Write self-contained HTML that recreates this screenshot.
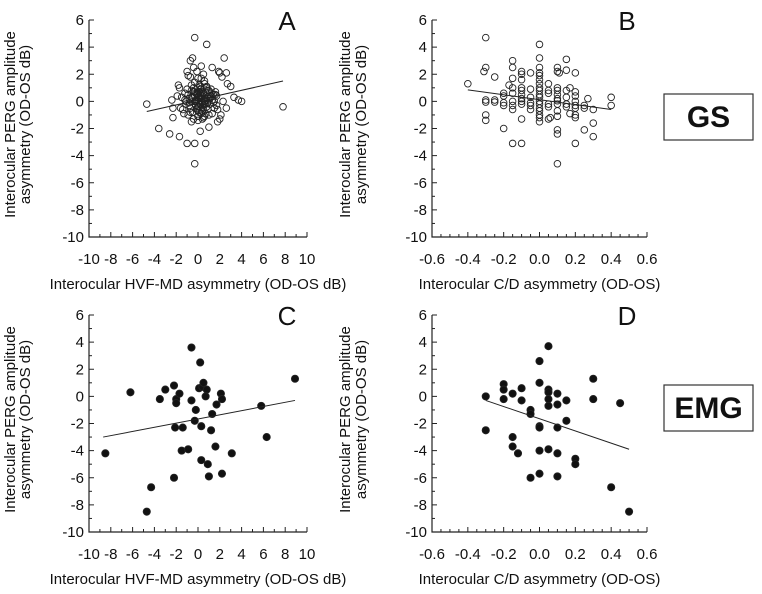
<!DOCTYPE html>
<html><head><meta charset="utf-8"><style>
html,body{margin:0;padding:0;background:#fff;}
svg{display:block;font-family:"Liberation Sans",Arial,sans-serif;}
</style></head><body>
<svg id="fig" width="762" height="594" viewBox="0 0 762 594" xmlns="http://www.w3.org/2000/svg"></svg>
<script>
// Panel A (GS, HVF-MD vs PERG) open circles
const aX=[-4.7,-3.6,-2.6,-2.4,-2.3,-2.3,-1.7,-1.8,-1.7,-1.0,-1.0,-0.7,-0.5,-0.3,-0.3,-0.3,0.7,0.8,0.2,1.0,2.4,2.6,1.9,2.0,1.3,0.3,-0.4,-0.1,3.0,2.7,2.6,3.3,3.7,4.0,7.8,2.0,1.8,2.2,
-1.5,-1.4,-1.2,-1.1,-1.0,-0.9,-0.8,-0.7,-0.6,-0.5,-0.4,-0.3,-0.2,-0.1,0.0,0.1,0.2,0.3,0.4,0.5,0.6,0.7,0.8,0.9,1.0,1.1,1.2,1.3,1.4,1.5,1.6,1.7,
-1.3,-0.9,-0.6,-0.3,0.0,0.2,0.4,0.6,0.9,1.2,1.5,-0.8,-0.4,0.1,0.5,0.9,1.3,-1.1,-0.5,0.0,0.3,0.7,1.1,-0.2,0.2,0.6,-0.6,0.0,0.4,0.8,1.6,-1.6,-0.7,0.3,1.0,-0.1,0.1,0.5,-0.3,0.0,0.2,1.8,2.1,-0.9,0.6,1.2,
-0.2,0.0,0.2,0.4,0.1,-0.1,0.3,0.5,-0.3,0.0,0.2,0.4,0.6,-0.5,-0.2,0.1,0.3,0.7,0.9,-0.7,-0.4,0.0,0.2,0.5,1.1,-1.2,-0.8,1.4,1.7,-1.9,2.3,-0.1,0.3,0.6,0.8,-0.6,1.0,0.0,0.4,-0.2];
const aY=[-0.2,-2.0,-2.4,0.1,-0.5,-1.2,-2.6,1.2,1.0,-3.1,2.2,3.0,3.2,4.7,-3.1,-4.6,-3.1,4.2,-2.2,-1.9,3.2,2.1,2.2,2.1,2.5,2.6,2.5,2.2,1.1,1.3,-0.5,0.3,0.1,0.0,-0.4,-1.3,-1.5,1.8,
0.3,-0.6,0.6,-0.2,0.9,-1.0,0.2,-0.5,0.8,0.0,-1.3,1.4,-0.3,0.5,1.0,-0.8,0.3,1.7,-0.4,0.6,-1.1,0.2,1.1,-0.6,0.4,-0.2,0.9,-0.9,0.5,0.0,0.7,-0.3,
-0.9,0.5,-1.5,0.4,-0.4,0.9,0.0,1.3,-0.1,0.6,-0.5,-0.3,1.0,0.2,-0.6,0.8,0.1,0.0,-0.8,1.7,0.7,-0.9,0.3,0.0,-0.2,1.5,0.3,0.6,-1.3,1.0,0.5,-0.5,1.8,0.4,-1.0,0.1,-0.4,2.0,0.7,-1.1,0.6,-0.6,-1.0,1.9,-0.2,0.4,
0.1,0.3,0.5,-0.1,0.7,-0.5,0.2,-0.3,0.0,-0.7,-0.2,0.4,0.0,0.3,0.6,1.2,-0.9,-0.2,0.3,-0.8,0.7,-1.1,1.1,-1.2,0.2,0.1,-0.1,-0.1,0.4,0.4,0.0,-0.6,0.9,0.2,-0.4,1.2,0.8,-1.4,-0.7,0.0];
const aLineX=[-4.7,7.8], aLineY=[-0.75,1.5];
// Panel B (GS, C/D vs PERG)
const bX=[-0.4,-0.3,-0.3,-0.31,-0.3,-0.3,-0.3,-0.3,-0.25,-0.25,-0.25,-0.2,-0.2,-0.2,-0.2,-0.2,-0.17,
-0.15,-0.15,-0.15,-0.15,-0.15,-0.15,-0.15,-0.15,-0.15,
-0.1,-0.1,-0.1,-0.1,-0.1,-0.1,-0.1,-0.1,-0.1,-0.1,-0.1,
-0.05,-0.05,-0.05,-0.05,-0.05,-0.05,
0,0,0,0,0,0,0,0,0,0,0,0,0,0,0,0,0,0,
0.05,0.05,0.05,0.05,0.05,0.06,0.05,
0.1,0.1,0.11,0.1,0.1,0.1,0.1,0.1,0.1,0.1,0.1,0.1,0.1,0.1,
0.15,0.15,0.15,0.15,0.15,0.15,0.17,0.17,
0.2,0.2,0.2,0.2,0.2,0.2,0.2,0.2,0.2,0.25,0.25,0.27,0.25,0.3,0.3,0.3,0.4,0.4];
const bY=[1.3,4.7,2.5,2.2,0.1,-0.05,-1.0,-1.4,1.8,0.1,-0.05,0.6,0.4,-0.1,-0.3,-2.0,1.2,
3.0,2.5,1.7,1.0,0.6,0.0,-0.3,-0.6,-3.1,
2.2,2.0,1.6,1.0,0.8,0.5,0.2,0.0,-0.2,-1.3,-3.1,
2.1,0.9,0.3,-0.1,-0.3,-0.6,
4.2,3.2,2.5,2.1,1.9,1.6,1.3,1.0,0.8,0.5,0.3,0.0,-0.2,-0.5,-0.7,-1.0,-1.2,-1.5,
1.3,0.8,0.6,-0.2,-0.4,-1.2,-1.3,
2.5,2.2,2.1,1.0,0.8,0.5,0.2,0.05,-0.2,-0.7,-1.1,-2.1,-2.4,-4.6,
3.1,2.3,0.8,0.3,-0.2,-0.4,-0.9,1.0,
2.1,0.7,0.4,0.0,-0.3,-0.5,-1.0,-1.2,-3.1,-0.3,-0.5,0.2,-2.1,-0.6,-1.6,-2.6,0.3,-0.3];
const bLineX=[-0.4,0.4], bLineY=[0.85,-0.6];
// Panel C (EMG, HVF-MD vs PERG)
const cX=[-8.5,-6.2,-4.7,-4.3,-3.5,-3.0,-2.2,-2.0,-2.0,-2.1,-2.2,-1.7,-1.4,-1.5,-0.9,-0.6,-0.6,-0.2,-0.3,0.1,0.2,0.4,0.5,0.3,0.3,0.8,0.7,0.9,1.0,1.3,1.2,1.6,1.7,2.1,2.2,2.2,3.1,5.8,6.3,8.9];
const cY=[-4.2,0.3,-8.5,-6.7,-0.2,0.5,0.8,-0.2,-0.5,-2.3,-6.0,0.2,-2.3,-4.0,-3.9,3.6,-0.3,-1.0,-1.8,0.6,2.5,0.7,1.0,-2.2,-4.7,0.5,0.0,-5.0,-5.9,-1.3,-2.5,-3.7,-0.6,0.2,-0.2,-5.7,-4.2,-0.7,-3.0,1.3];
const cLineX=[-8.7,8.9], cLineY=[-3.0,-0.3];
// Panel D (EMG, C/D vs PERG)
const dX=[-0.3,-0.3,-0.2,-0.2,-0.2,-0.15,-0.15,-0.15,-0.12,-0.1,-0.1,-0.05,-0.05,-0.05,0,0,0,0,0,0,0.05,0.05,0.05,0.05,0.05,0.05,0.1,0.1,0.1,0.1,0.1,0.15,0.15,0.2,0.2,0.3,0.3,0.4,0.45,0.5];
const dY=[0.0,-2.5,0.9,0.5,-0.2,0.2,-3.0,-3.7,-4.2,0.6,-0.3,-1.0,-1.3,-6.0,2.6,1.0,-2.2,-2.3,-4.0,-5.7,3.7,0.5,0.3,-0.2,-0.7,-3.9,0.2,-0.6,-2.3,-4.2,-5.9,-0.3,-1.8,-4.6,-5.0,1.3,-0.2,-6.7,-0.5,-8.5];
const dLineX=[-0.3,0.5], dLineY=[-0.3,-3.9];
const yTicks=[6,4,2,0,-2,-4,-6,-8,-10];
const xTicksMD=[-10,-8,-6,-4,-2,0,2,4,6,8,10];
const xTicksCD=[-0.6,-0.4,-0.2,0.0,0.2,0.4,0.6];
const xTickLabelsCD=["-0.6","-0.4","-0.2","0.0","0.2","0.4","0.6"];

const NS="http://www.w3.org/2000/svg";
const svg=document.getElementById('fig');
function mk(tag,attrs,parent,text){const e=document.createElementNS(NS,tag);for(const k in attrs)e.setAttribute(k,attrs[k]);if(text!==undefined)e.textContent=text;parent.appendChild(e);return e;}

function panel(id,x0,x1,y0,y1,xmin,xmax,xTicks,xLabels,xMinorStep,xs,ys,lx,ly,filled,letter,xTitle,titleX1,titleX2){
  const g=mk('g',{},svg);
  
  
  const sx=v=>x0+(v-xmin)/(xmax-xmin)*(x1-x0);
  const sy=v=>y1-(v+10)/16*(y1-y0);
  const ax=mk('path',{d:`M${x0} ${y0}V${y1}H${x1}`,stroke:'#222',fill:'none','stroke-width':1.2},g);
  
  
  for(let v=-10;v<=6;v+=1){const len=(v%2===0)?5:3;mk('line',{x1:x0,x2:x0+len,y1:sy(v),y2:sy(v),stroke:'#222','stroke-width':1},g);}
  yTicks.forEach(v=>{const t=mk('text',{x:x0-5,y:sy(v)+5,'text-anchor':'end','font-size':15,fill:'#111'},g,String(v));
    
    });
  for(let v=xmin;v<=xmax+1e-9;v+=xMinorStep){const isMaj=xTicks.some(t=>Math.abs(t-v)<1e-6);mk('line',{x1:sx(v),x2:sx(v),y1:y1,y2:y1-(isMaj?5:3),stroke:'#222','stroke-width':1},g);}
  xTicks.forEach((v,i)=>{const t=mk('text',{x:sx(v),y:y1+27,'text-anchor':'middle','font-size':15,fill:'#111'},g,xLabels[i]);
    
    });
  const xt=mk('text',{x:(x0+x1)/2,y:y1+52,'text-anchor':'middle','font-size':15,fill:'#111'},g,xTitle);
  
  
  const cy=(y0+y1)/2-4;
  [[titleX1,'Interocular PERG amplitude'],[titleX2,'asymmetry (OD-OS dB)']].forEach(([tx,s])=>{
    const t=mk('text',{x:tx,y:cy,'text-anchor':'middle','font-size':15,fill:'#111',transform:`rotate(-90 ${tx} ${cy})`},g,s);
    
    });
  const L=mk('text',{x:x1-20,y:y0+10,'text-anchor':'middle','font-size':26,fill:'#111'},g,letter);
  
  
  const n=Math.min(xs.length,ys.length);
  for(let i=0;i<n;i++){const c=mk('circle',{cx:sx(xs[i]),cy:sy(ys[i]),r:filled?3.6:3.3,fill:filled?'#111':'none',stroke:'#222','stroke-width':0.9},g);
    
    }
  const rl=mk('line',{x1:sx(lx[0]),y1:sy(ly[0]),x2:sx(lx[1]),y2:sy(ly[1]),stroke:'#222','stroke-width':1},g);
  
  
}
const mdLabels=xTicksMD.map(String);
panel('a',89,307,20,237,-10,10,xTicksMD,mdLabels,1,aX,aY,aLineX,aLineY,false,'A','Interocular HVF-MD asymmetry (OD-OS dB)',15,30);
panel('b',432,647,20,237,-0.6,0.6,xTicksCD,xTickLabelsCD,0.05,bX,bY,bLineX,bLineY,false,'B','Interocular C/D asymmetry (OD-OS)',350,366);
panel('c',89,307,315,532,-10,10,xTicksMD,mdLabels,1,cX,cY,cLineX,cLineY,true,'C','Interocular HVF-MD asymmetry (OD-OS dB)',15,30);
panel('d',432,647,315,532,-0.6,0.6,xTicksCD,xTickLabelsCD,0.05,dX,dY,dLineX,dLineY,true,'D','Interocular C/D asymmetry (OD-OS)',350,366);
function box(id,y,label,fs){
  const g=mk('g',{},svg);
  
  
  mk('rect',{x:664,y:y,width:89,height:46,fill:'#fff',stroke:'#333','stroke-width':1.2},g);
  mk('text',{x:708.5,y:y+33,'text-anchor':'middle','font-size':30,'font-weight':'bold',fill:'#111'},g,label);
}
box('gs-group-label',94,'GS',30);
box('emg-group-label',385,'EMG',30);
</script>
</body></html>
